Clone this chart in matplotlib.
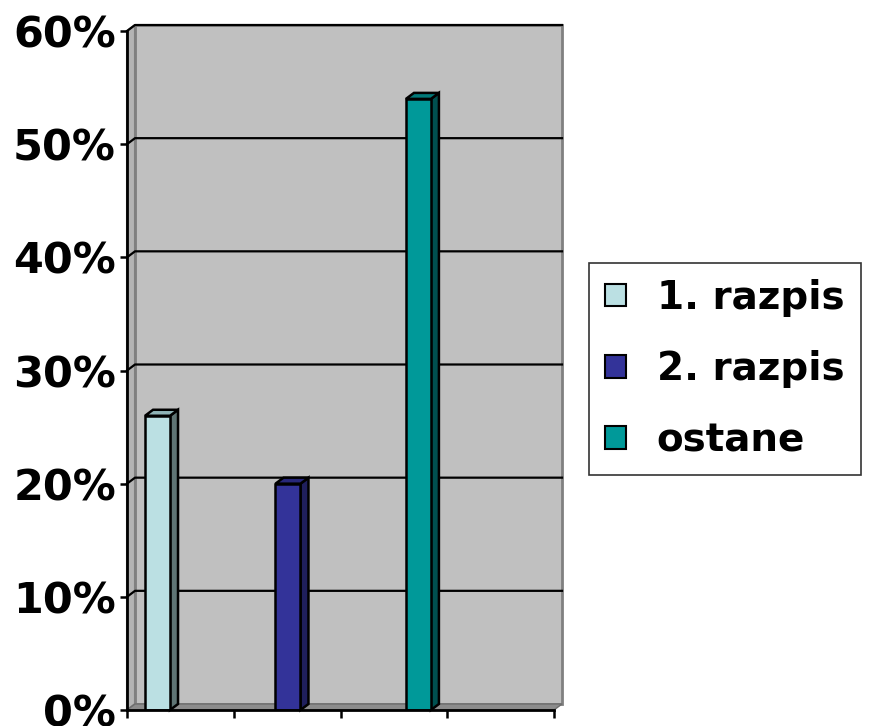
import matplotlib
matplotlib.use('Agg')
import matplotlib.pyplot as plt
from matplotlib.patches import Polygon, Patch
import numpy as np

# data
labels = ['1. razpis', '2. razpis', 'ostane']
values = [26, 20, 54]
front_colors = ['#BBE0E3', '#333399', '#009999']
side_colors = ['#5F7474', '#1F1F5C', '#005050']
top_colors = ['#8FB3B6', '#28287A', '#007878']
y_ticks = [0, 10, 20, 30, 40, 50, 60]

plt.rcParams['font.family'] = ['DejaVu Sans']

fig = plt.figure(figsize=(8.69, 7.26), dpi=100)
ax = fig.add_axes([127 / 869, 16 / 726, 427 / 869, 679 / 726])
ax.set_xlim(0, 4)
ax.set_ylim(0, 60)
ax.patch.set_alpha(0)

# depth offset of the 3d box (in data units)
dx = 8 * 4 / 427
dy = 6 * 60 / 679

# back wall, side wall, floor
ax.add_patch(Polygon([(dx, dy), (4 + dx, dy), (4 + dx, 60 + dy), (dx, 60 + dy)],
                     closed=True, facecolor='#C0C0C0', edgecolor='#808080', lw=2,
                     clip_on=False, zorder=0))
ax.add_patch(Polygon([(0, 0), (dx, dy), (dx, 60 + dy), (0, 60)],
                     closed=True, facecolor='#B4B4B4', edgecolor='#808080', lw=1.5,
                     clip_on=False, zorder=0.5))
ax.add_patch(Polygon([(0, 0), (4, 0), (4 + dx, dy), (dx, dy)],
                     closed=True, facecolor='#8C8C8C', edgecolor='#6E6E6E', lw=1,
                     clip_on=False, zorder=0.5))

# gridlines on the walls
for v in y_ticks[1:]:
    ax.plot([0, dx, 4 + dx], [v, v + dy, v + dy], color='black', lw=1.6,
            clip_on=False, zorder=1)

# bars
spacing = 1.222
pos = 0.286 + spacing * np.arange(len(values))
bars = ax.bar(pos, values, width=0.234, color=front_colors, edgecolor='black',
              lw=1.8, zorder=3)
for b, sc, tc in zip(bars, side_colors, top_colors):
    x0 = b.get_x()
    x1 = x0 + b.get_width()
    h = b.get_height()
    ax.add_patch(Polygon([(x1, 0), (x1 + dx, dy), (x1 + dx, h + dy), (x1, h)],
                         closed=True, facecolor=sc, edgecolor='black', lw=1.8,
                         clip_on=False, zorder=2.9))
    ax.add_patch(Polygon([(x0, h), (x1, h), (x1 + dx, h + dy), (x0 + dx, h + dy)],
                         closed=True, facecolor=tc, edgecolor='black', lw=1.8,
                         clip_on=False, zorder=2.9))

# axes
ax.spines['top'].set_visible(False)
ax.spines['right'].set_visible(False)
ax.spines['left'].set_linewidth(2)
ax.spines['bottom'].set_linewidth(2)
ax.spines['left'].set_zorder(4)
ax.spines['bottom'].set_zorder(4)
ax.set_yticks(y_ticks)
ax.set_yticklabels([f'{v}%' for v in y_ticks])
ax.set_xticks([0, 1, 2, 3, 4])
ax.set_xticklabels([])
ax.tick_params(axis='y', length=5, width=1.8, pad=3, labelsize=31)
ax.tick_params(axis='x', length=6, width=1.8)
for t in ax.get_yticklabels():
    t.set_fontweight('bold')

handles = [Patch(facecolor=c, edgecolor='black', lw=1.5) for c in front_colors]
leg = fig.legend(handles, labels, loc='center left',
                 bbox_to_anchor=(589 / 869, 1 - 369 / 726),
                 prop={'size': 28, 'weight': 'bold'}, frameon=True, fancybox=False,
                 handlelength=0.52, handleheight=0.52, handletextpad=0.8,
                 labelspacing=0.85, borderpad=0.42, borderaxespad=0)
leg.get_frame().set_edgecolor('black')
leg.get_frame().set_linewidth(1.2)

fig.savefig('out.png', dpi=100)
